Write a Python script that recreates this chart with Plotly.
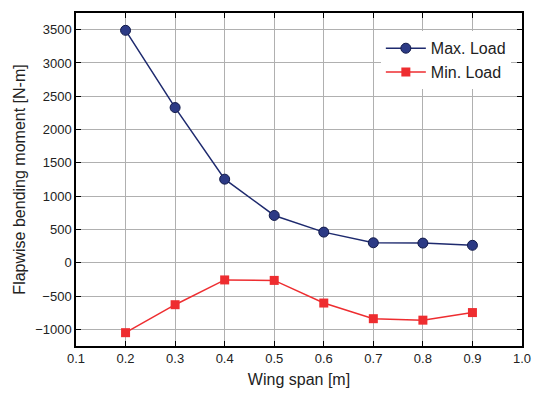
import plotly.graph_objects as go

span = [0.2, 0.3, 0.4, 0.5, 0.6, 0.7, 0.8, 0.9]
max_load = [3490, 2330, 1255, 710, 460, 300, 295, 262]
min_load = [-1050, -630, -258, -265, -605, -840, -862, -748]

FONT = "Liberation Sans"
fig = go.Figure()
fig.add_trace(go.Scatter(x=span, y=max_load, name="Max. Load", mode="lines+markers",
                         line=dict(color="#1e2a6e", width=1.5),
                         marker=dict(symbol="circle", size=10, color="#2c3a85",
                                     line=dict(color="#121a4a", width=1))))
fig.add_trace(go.Scatter(x=span, y=min_load, name="Min. Load", mode="lines+markers",
                         line=dict(color="#ee2d30", width=1.5),
                         marker=dict(symbol="square", size=9, color="#ee2d30")))

axis_common = dict(showline=True, linecolor="black", linewidth=1.5, mirror="ticks",
                   ticks="inside", ticklen=5, tickcolor="black", showgrid=True,
                   gridcolor="#b0b0b0", gridwidth=1, zeroline=False,
                   tickfont=dict(family=FONT, size=13, color="#222"))
fig.update_xaxes(range=[0.1, 1.0], dtick=0.1, tickformat=".1f",
                 title=dict(text="Wing span [m]", font=dict(family=FONT, size=16, color="#222"), standoff=8),
                 **axis_common)
fig.update_yaxes(range=[-1250, 3750], tickvals=[-1000, -500, 0, 500, 1000, 1500, 2000, 2500, 3000, 3500],
                 title=dict(text="Flapwise bending moment [N-m]", font=dict(family=FONT, size=16, color="#222"), standoff=6),
                 **axis_common)
fig.update_layout(width=542, height=397, margin=dict(l=76, r=11, t=11, b=50),
                  plot_bgcolor="white", paper_bgcolor="white",
                  legend=dict(x=0.975, y=0.945, xanchor="right", yanchor="top",
                              bgcolor="white", font=dict(family=FONT, size=16, color="#222"),
                              tracegroupgap=0, itemwidth=40))
fig.write_html("out.html")
